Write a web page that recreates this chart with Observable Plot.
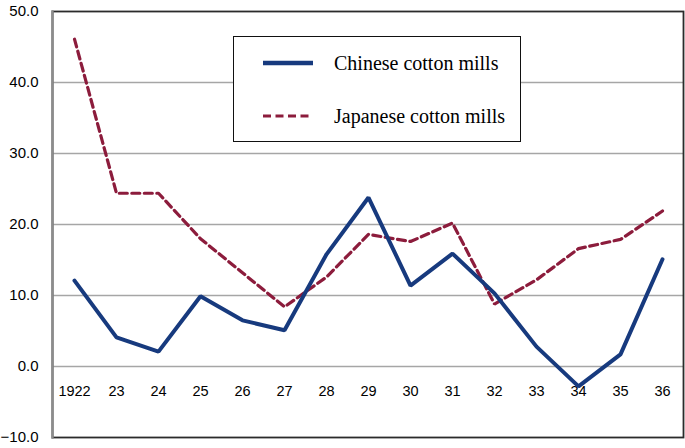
<!DOCTYPE html>
<html>
<head>
<meta charset="utf-8">
<script src="https://cdn.jsdelivr.net/npm/d3@7"></script>
<script src="https://cdn.jsdelivr.net/npm/@observablehq/plot@0.6"></script>
<style>
  html, body { margin: 0; padding: 0; background: #fff; }
  #wrap { position: relative; width: 685px; height: 448px; }
  #legend {
    position: absolute; left: 233px; top: 36px; width: 288px; height: 106px;
    border: 1.5px solid #111; background: #fff; box-sizing: border-box;
    font-family: "Liberation Serif", "Times New Roman", serif; font-size: 20px; color: #000;
  }
  .item { position: absolute; left: 0; display: flex; align-items: center; }
  .item svg { margin-left: 29px; margin-right: 21px; }
</style>
</head>
<body>
<div id="wrap"></div>
<script>
const years = [1922, 1923, 1924, 1925, 1926, 1927, 1928, 1929, 1930, 1931, 1932, 1933, 1934, 1935, 1936];
const tickLabels = ["1922", "23", "24", "25", "26", "27", "28", "29", "30", "31", "32", "33", "34", "35", "36"];
const chinese = [12.1, 4.1, 2.1, 9.9, 6.5, 5.1, 15.8, 23.8, 11.4, 15.9, 10.3, 2.8, -2.8, 1.7, 15.1];
const japanese = [46.1, 24.4, 24.4, 18.0, 13.2, 8.4, 12.6, 18.6, 17.6, 20.2, 8.8, 12.2, 16.6, 17.9, 21.9];
const yTicks = [-10, 0, 10, 20, 30, 40, 50];
const gridTicks = [0, 10, 20, 30, 40];
const seriesNames = ["Chinese cotton mills", "Japanese cotton mills"];
const colors = ["#173a7e", "#8c1c3c"];

const chData = years.map((y, i) => ({year: y, value: chinese[i]}));
const jpData = years.map((y, i) => ({year: y, value: japanese[i]}));
const labelOf = new Map(years.map((y, i) => [y, tickLabels[i]]));

const chart = Plot.plot({
  width: 685,
  height: 448,
  marginLeft: 52,
  marginRight: 2,
  marginTop: 11,
  marginBottom: 11,
  style: {fontFamily: "'Liberation Sans', Arial, sans-serif", fontSize: "15px", color: "#000", background: "#fff"},
  x: {type: "point", domain: years, padding: 0.5, axis: null},
  y: {domain: [-10, 50], axis: null},
  marks: [
    Plot.ruleY(gridTicks, {stroke: "#a6a6a6", strokeWidth: 1.5}),
    Plot.frame({stroke: "#2b2b2b", strokeWidth: 1.8}),
    Plot.frame({anchor: "left", stroke: "#8c8c8c", strokeWidth: 2.4}),
    Plot.axisY({ticks: yTicks, tickSize: 0, tickPadding: 14, tickFormat: d3.format(".1f"), fontSize: 15, label: null}),
    Plot.text(years, {x: d => d, y: 0, dy: 25, text: d => labelOf.get(d), fontSize: 14.5, fill: "#000"}),
    Plot.line(jpData, {x: "year", y: "value", stroke: colors[1], strokeWidth: 3.2, strokeDasharray: "8,4.5", strokeLinejoin: "miter"}),
    Plot.line(chData, {x: "year", y: "value", stroke: colors[0], strokeWidth: 4, strokeLinejoin: "miter"})
  ]
});

const wrap = document.getElementById("wrap");
wrap.appendChild(chart);

const legend = document.createElement("div");
legend.id = "legend";
const tops = [13, 66];
seriesNames.forEach((name, i) => {
  const item = document.createElement("div");
  item.className = "item";
  item.style.top = tops[i] + "px";
  item.style.height = "26px";
  const dash = i === 1 ? ' stroke-dasharray="8,4.5"' : '';
  const sw = i === 0 ? 4.5 : 3;
  item.innerHTML = `<svg width="50" height="10"><line x1="0" x2="50" y1="5" y2="5" stroke="${colors[i]}" stroke-width="${sw}" stroke-linecap="${i===0?'round':'butt'}"${dash}/></svg><span>${name}</span>`;
  legend.appendChild(item);
});
wrap.appendChild(legend);
</script>
</body>
</html>
